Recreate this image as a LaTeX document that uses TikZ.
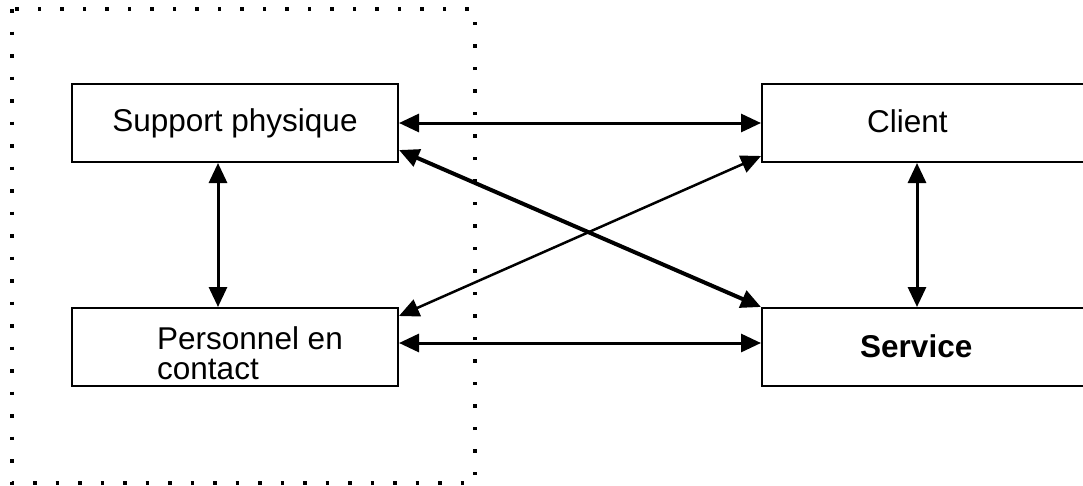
\documentclass[tikz,border=0pt]{standalone}
\usepackage{fontspec}
\setmainfont{Liberation Sans}
\usetikzlibrary{arrows.meta}
\tikzset{
  bloc/.style={draw,line width=2pt,minimum height=78pt,inner sep=0pt},
  lien/.style={<->,line width=3pt},
  txt/.style={inner sep=0pt,anchor=base west,align=left},
}
\begin{document}
\begin{tikzpicture}[x=1pt,y=-1pt,>={Triangle[length=20pt,width=18pt]},font=\fontsize{31.5}{30}\selectfont]
\useasboundingbox (0,0) rectangle (1083,485);
\clip (0,0) rectangle (1083,485);
%zone en pointilles
\draw[line width=3.5pt,dash pattern=on 3.5pt off 19pt](12,9) rectangle (475,483);
\node[bloc,minimum width=326pt] (support) at (235,123) {Support physique};
\node[bloc,minimum width=326pt] (pers) at (235,347) {};
\node[bloc,minimum width=330pt] (client) at (927,123) {};
\node[bloc,minimum width=330pt] (serv) at (927,347) {};
\node[txt] (perstxt) at (157,379) {Personnel en\\contact};
\node[txt] (clienttxt) at (867,132) {Client};
\node[txt,font=\fontsize{31.5}{30}\selectfont\bfseries] (servtxt) at (860,357) {Service};
%liens
\draw[lien] (support.east) -- (client.west);
\draw[lien,line width=4pt] ([yshift=-27pt]support.east) -- (serv.north west);
\draw[lien,line width=2.5pt] ([yshift=7pt]client.south west) -- ([yshift=-9pt]pers.north east);
\draw[lien] ([yshift=4pt]pers.east) -- ([yshift=4pt]serv.west);
\draw[lien] ([xshift=-17pt]support.south) -- ([xshift=-17pt]pers.north);
\draw[lien] ([xshift=-10pt]client.south) -- ([xshift=-10pt]serv.north);
\end{tikzpicture}
\end{document}
